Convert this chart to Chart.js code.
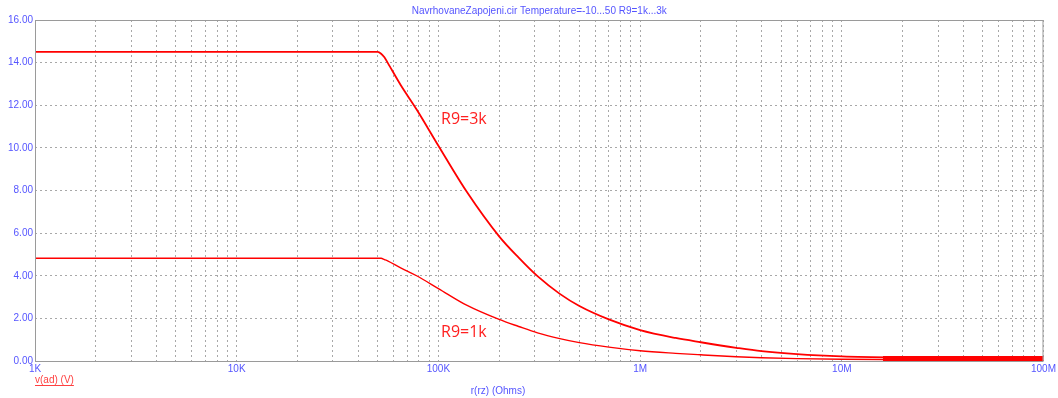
<!DOCTYPE html>
<html lang="en">
<head>
    <meta charset="UTF-8">
    <title>NavrhovaneZapojeni.cir</title>
    <script src="https://cdn.jsdelivr.net/npm/chart.js"></script>
    <style>
        body { margin: 0; background: #fff; }
        #wrap { width: 1058px; height: 398px; position: relative; }
    </style>
</head>
<body>
    <div id="wrap">
        <canvas id="sweepChart"></canvas>
    </div>

    <script>
        // r(rz) sweep points (Ohms)
        let resistance = [1e3, 10e3, 50e3, 52e3, 54e3, 56e3, 65e3, 78e3, 100e3, 138e3, 200e3, 250e3, 310e3,
                          400e3, 500e3, 700e3, 1e6, 1.5e6, 2e6, 3e6, 4e6, 6e6, 10e6, 20e6, 50e6, 100e6];

        // v(ad) for R9 = 3k and R9 = 1k (V)
        let vR9_3k = [14.5, 14.5, 14.5, 14.42, 14.25, 14.0, 12.95, 11.8, 10.1, 7.95, 5.85, 4.85, 3.98,
                      3.15, 2.58, 1.95, 1.45, 1.08, 0.88, 0.62, 0.46, 0.32, 0.22, 0.17, 0.15, 0.14];
        let vR9_1k = [4.82, 4.82, 4.82, 4.82, 4.76, 4.70, 4.37, 4.0, 3.4, 2.62, 1.95, 1.62, 1.32,
                      1.05, 0.86, 0.65, 0.48, 0.36, 0.29, 0.2, 0.15, 0.11, 0.08, 0.07, 0.06, 0.06];

        // overlapping temperature traces at the high end
        let spreadR = [16e6, 100e6];
        let spreadV = [0.12, 0.12];

        // axis ticks
        let decades = [1e3, 1e4, 1e5, 1e6, 1e7, 1e8];
        let decadeLabels = ["1K", "10K", "100K", "1M", "10M", "100M"];
        let yTicks = [0, 2, 4, 6, 8, 10, 12, 14, 16];

        const blue = "#5555ff";
        const red = "#ff0000";
        const gridGray = "#a8a8a8";

        function toPoints(xs, ys) {
            return xs.map((x, i) => ({ x: x, y: ys[i] }));
        }

        // minor ticks 1..9 per decade, labels only on the decades
        function logTicks() {
            let t = [];
            for (let d = 0; d < decades.length - 1; d++) {
                for (let k = 1; k < 10; k++) t.push({ value: decades[d] * k });
            }
            t.push({ value: decades[decades.length - 1] });
            return t;
        }

        const textPlugin = {
            id: "sweepText",
            afterDraw(chart) {
                const ctx = chart.ctx;
                const area = chart.chartArea;
                ctx.save();

                // plot frame
                ctx.strokeStyle = "#9a9a9a";
                ctx.lineWidth = 1;
                ctx.strokeRect(area.left + 0.5, area.top + 0.5, area.right - area.left - 1, area.bottom - area.top);

                ctx.font = "10px 'Liberation Sans', Arial, sans-serif";
                ctx.textBaseline = "middle";

                ctx.fillStyle = blue;
                ctx.textAlign = "center";
                ctx.fillText("NavrhovaneZapojeni.cir Temperature=-10...50 R9=1k...3k", (area.left + area.right) / 2, 11);
                ctx.fillText("r(rz) (Ohms)", 498, 391);

                ctx.fillStyle = "#ff4040";
                ctx.textAlign = "left";
                ctx.fillText("v(ad) (V)", 35, 380);
                let w = ctx.measureText("v(ad) (V)").width;
                ctx.fillRect(35, 385, w, 1);

                ctx.font = "16px 'Open Sans', sans-serif";
                ctx.fillStyle = "#ff2020";
                ctx.fillText("R9=3k", 441, 119);
                ctx.fillText("R9=1k", 441, 332);
                ctx.restore();
            }
        };

        new Chart(document.getElementById("sweepChart"), {
            type: "line",
            data: {
                datasets: [
                    {
                        label: "R9=3k",
                        data: toPoints(resistance, vR9_3k),
                        borderColor: red,
                        borderWidth: 1.8,
                        pointRadius: 0,
                        cubicInterpolationMode: "monotone",
                        fill: false
                    },
                    {
                        label: "R9=1k",
                        data: toPoints(resistance, vR9_1k),
                        borderColor: red,
                        borderWidth: 1.4,
                        pointRadius: 0,
                        cubicInterpolationMode: "monotone",
                        fill: false
                    },
                    {
                        label: "spread",
                        data: toPoints(spreadR, spreadV),
                        borderColor: red,
                        borderWidth: 5,
                        pointRadius: 0,
                        fill: false
                    }
                ]
            },
            options: {
                responsive: true,
                maintainAspectRatio: false,
                animation: false,
                layout: { padding: { top: 20, right: 11, left: 0, bottom: 0 } },
                plugins: {
                    legend: { display: false },
                    tooltip: { enabled: false }
                },
                scales: {
                    x: {
                        type: "logarithmic",
                        min: decades[0],
                        max: decades[decades.length - 1],
                        afterBuildTicks: scale => { scale.ticks = logTicks(); },
                        afterFit: scale => { scale.height = 37; },
                        grid: { color: gridGray, drawTicks: false, lineWidth: 1 },
                        border: { display: false, dash: [2, 3] },
                        ticks: {
                            autoSkip: false,
                            maxRotation: 0,
                            padding: 2,
                            color: blue,
                            font: { family: "'Liberation Sans', Arial, sans-serif", size: 10 },
                            callback: function(value) {
                                let i = decades.indexOf(value);
                                return i >= 0 ? decadeLabels[i] : "";
                            }
                        }
                    },
                    y: {
                        min: yTicks[0],
                        max: yTicks[yTicks.length - 1],
                        afterBuildTicks: scale => { scale.ticks = yTicks.map(v => ({ value: v })); },
                        afterFit: scale => { scale.width = 35; },
                        grid: { color: gridGray, drawTicks: false, lineWidth: 1 },
                        border: { display: false, dash: [2, 3] },
                        ticks: {
                            padding: 2,
                            color: blue,
                            font: { family: "'Liberation Sans', Arial, sans-serif", size: 10 },
                            callback: value => value.toFixed(2)
                        }
                    }
                }
            },
            plugins: [textPlugin]
        });
    </script>
</body>
</html>
